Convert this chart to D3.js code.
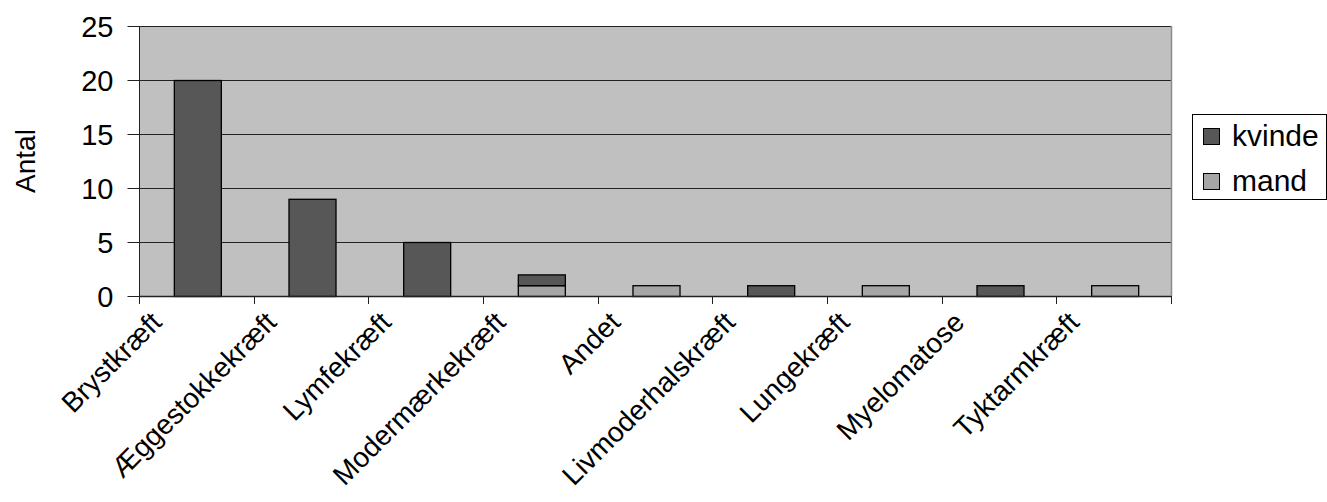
<!DOCTYPE html>
<html>
<head>
<meta charset="utf-8">
<script src="https://cdn.jsdelivr.net/npm/d3@7"></script>
<style>
  html, body { margin: 0; padding: 0; background: #fff; }
  svg text { font-family: "Liberation Sans", Arial, sans-serif; fill: #000; }
</style>
</head>
<body>
<svg id="chart" width="1327" height="502"></svg>
<script>
const categories = ["Brystkræft", "Æggestokkekræft", "Lymfekræft", "Modermærkekræft", "Andet", "Livmoderhalskræft", "Lungekræft", "Myelomatose", "Tyktarmkræft"];
const kvinde = [20, 9, 5, 1, 0, 1, 0, 1, 0];
const mand = [0, 0, 0, 1, 1, 0, 1, 0, 1];
const seriesNames = ["kvinde", "mand"];
const seriesColors = ["#575757", "#a6a6a6"];
const yTicks = [0, 5, 10, 15, 20, 25];
const yLabel = "Antal";

const svg = d3.select("#chart");
const pLeft = 139, pRight = 1171, pTop = 26, pBottom = 296;

const x = d3.scaleBand().domain(categories).range([pLeft, pRight]).paddingInner(0.59).paddingOuter(0.295);
const y = d3.scaleLinear().domain([0, 25]).range([pBottom, pTop]);

// plot background
svg.append("rect").attr("x", pLeft).attr("y", pTop).attr("width", pRight - pLeft).attr("height", pBottom - pTop).attr("fill", "#c0c0c0");

// gridlines
svg.append("g").selectAll("line").data(yTicks.filter(d => d > 0)).join("line")
  .attr("x1", pLeft).attr("x2", pRight)
  .attr("y1", d => Math.round(y(d)) + 0.5).attr("y2", d => Math.round(y(d)) + 0.5)
  .attr("stroke", "#222").attr("stroke-width", 1.2);

// right border
svg.append("line").attr("x1", pRight + 0.5).attr("x2", pRight + 0.5).attr("y1", pTop).attr("y2", pBottom).attr("stroke", "#8a8a8a").attr("stroke-width", 1.5);

// stacked bars (mand at bottom, kvinde on top)
const rows = categories.map((c, i) => ({ cat: c, mand: mand[i], kvinde: kvinde[i] }));
const stack = d3.stack().keys(["mand", "kvinde"])(rows);
const colorOf = { kvinde: seriesColors[0], mand: seriesColors[1] };
stack.forEach(layer => {
  svg.append("g").selectAll("rect").data(layer.filter(d => d[1] - d[0] > 0)).join("rect")
    .attr("x", d => x(d.data.cat) + 1.5)
    .attr("y", d => y(d[1]) + 0.5)
    .attr("width", x.bandwidth())
    .attr("height", d => y(d[0]) - y(d[1]))
    .attr("fill", colorOf[layer.key])
    .attr("stroke", "#000").attr("stroke-width", 1.3);
});

// y axis
const yAxis = d3.axisLeft(y).tickValues(yTicks).tickSize(12).tickPadding(14).tickFormat(d3.format("d"));
const gy = svg.append("g").attr("transform", `translate(${pLeft + 0.5},0)`).call(yAxis);
gy.select(".domain").attr("stroke", "#222").attr("d", `M0,${pTop}V${pBottom}`);
gy.selectAll(".tick line").attr("stroke", "#222");
gy.selectAll("text").attr("font-size", 29).attr("font-family", "Liberation Sans, Arial, sans-serif").attr("dy", "0.36em");

// x axis
const xb = d3.scaleLinear().domain([0, categories.length]).range([pLeft, pRight]);
const gx = svg.append("g");
gx.append("line").attr("x1", pLeft).attr("x2", pRight).attr("y1", pBottom + 0.5).attr("y2", pBottom + 0.5).attr("stroke", "#222").attr("stroke-width", 1.5);
gx.selectAll("line.t").data(d3.range(categories.length + 1)).join("line").attr("class", "t")
  .attr("x1", d => Math.round(xb(d)) + 0.5).attr("x2", d => Math.round(xb(d)) + 0.5)
  .attr("y1", pBottom).attr("y2", pBottom + 8).attr("stroke", "#222");
gx.selectAll("text").data(categories).join("text")
  .attr("transform", d => `translate(${x(d) + x.bandwidth() / 2 - 33},${pBottom + 28}) rotate(-45)`)
  .attr("text-anchor", "end")
  .attr("font-size", 28)
  .text(d => d);

// y label
svg.append("text").attr("transform", `translate(35,${(pTop + pBottom) / 2}) rotate(-90)`)
  .attr("text-anchor", "middle").attr("font-size", 28).text(yLabel);

// legend
const lg = svg.append("g");
lg.append("rect").attr("x", 1192.5).attr("y", 114.5).attr("width", 134).attr("height", 85).attr("fill", "#fff").attr("stroke", "#000");
const items = lg.selectAll("g").data(seriesNames).join("g")
  .attr("transform", (d, i) => `translate(1203,${128 + i * 45})`);
items.append("rect").attr("x", 0.5).attr("y", 0.5).attr("width", 16).attr("height", 16)
  .attr("fill", (d, i) => seriesColors[i]).attr("stroke", "#000");
items.append("text").attr("x", 29).attr("y", 18).attr("font-size", 30).text(d => d);
</script>
</body>
</html>
